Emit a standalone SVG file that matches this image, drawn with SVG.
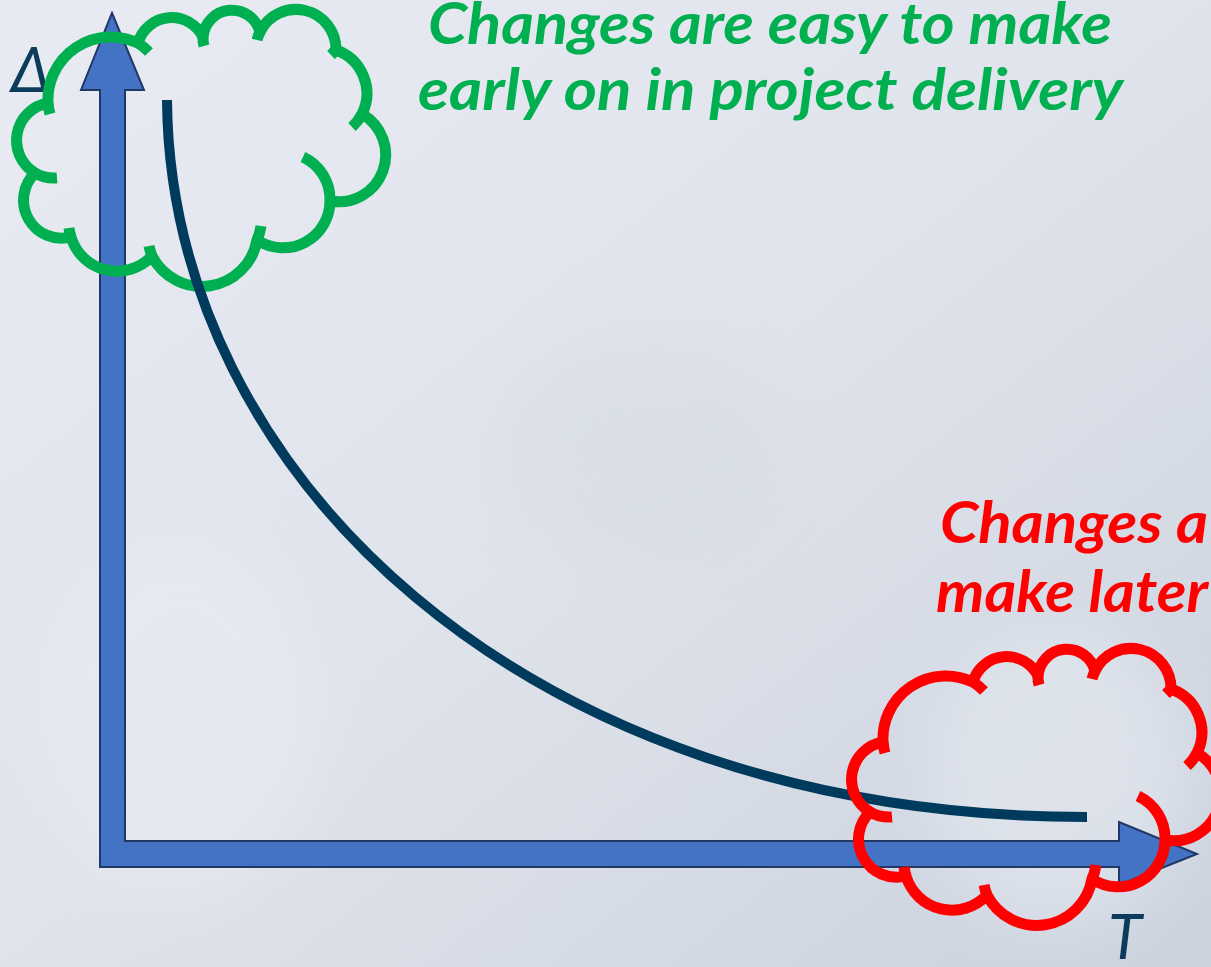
<svg xmlns="http://www.w3.org/2000/svg" xmlns:xlink="http://www.w3.org/1999/xlink" width="1211" height="967" viewBox="0 0 1211 967">
  <style>
    .axis { fill: #4472c4; stroke: #1f3864; stroke-width: 2; stroke-linejoin: miter; }
    .curve { fill: none; stroke: #003a5c; stroke-width: 10; stroke-linecap: butt; }
    .cloud { fill: none; stroke-width: 11; stroke-linejoin: round; stroke-linecap: butt; }
    .cloud.green { stroke: #00b050; }
    .cloud.red { stroke: #ff0000; }
    .note { font-family: Lato, "Open Sans", "Liberation Sans", sans-serif; font-weight: 700; font-style: italic; font-size: 57px; }
    .note.green { fill: #00b050; }
    .note.red { fill: #ff0000; }
    .axis-label { font-family: Lato, "Liberation Sans", sans-serif; font-style: italic; font-size: 62px; fill: #0d3b5c; }
  </style>
  <defs>
    <linearGradient id="bg" x1="0" y1="0" x2="1" y2="1">
      <stop offset="0" stop-color="#e9ebf3"/>
      <stop offset="0.5" stop-color="#dfe3eb"/>
      <stop offset="1" stop-color="#cbd2de"/>
    </linearGradient>
    <filter id="soft" x="-50%" y="-50%" width="200%" height="200%">
      <feGaussianBlur stdDeviation="30"/>
    </filter>
    <!-- cloud outline: eleven bumps, clockwise from the upper-left -->
    <path id="cloud-outline" d="M48,103
      A63 63 0 0 1 138,43
      A35 35 0 0 1 203,37
      A29 29 0 0 1 260,32
      A40 40 0 0 1 336,50
      A46 46 0 0 1 362,114
      A47 47 0 0 1 330,201
      A47 47 0 0 1 257,240
      A56 56 0 0 1 152,256
      A48 48 0 0 1 71,237
      A38 38 0 0 1 35,173
      A38 38 0 0 1 48,103 Z"/>
    <!-- short inner arcs where the bumps meet -->
    <path id="cloud-ticks" d="M48,103 A63 63 0 0 0 50,114
      M138,43 A63 63 0 0 1 149,52
      M203,37 A29 29 0 0 0 204,46
      M260,32 A40 40 0 0 0 257,40
      M336,50 L331,55
      M362,114 A46 46 0 0 1 352,127
      M303,157 A47 47 0 0 1 330,201
      M257,240 A56 56 0 0 0 261,226
      M152,256 A56 56 0 0 1 149,246
      M71,237 A48 48 0 0 1 69,228
      M35,173 A38 38 0 0 0 57,178"/>
  </defs>

  <!-- backdrop -->
  <rect width="1211" height="967" fill="url(#bg)"/>
  <g filter="url(#soft)" opacity="0.4">
    <ellipse cx="1060" cy="780" rx="130" ry="150" fill="#eef2f8"/>
    <ellipse cx="640" cy="450" rx="140" ry="110" fill="#d3d9e3"/>
    <ellipse cx="180" cy="720" rx="140" ry="180" fill="#eef0f6"/>
  </g>

  <!-- axis labels -->
  <g id="label-delta">
    <text class="axis-label" x="11" y="92">Δ</text>
  </g>
  <g id="label-t">
    <text class="axis-label" x="1108" y="959">T</text>
  </g>

  <!-- value / time axes -->
  <g id="axes">
    <path class="axis" d="M100,867 L100,90 L81,90 L112,13 L144,90 L125,90 L125,841 L1119,841 L1119,822 L1197,854 L1119,885 L1119,867 Z"/>
  </g>

  <!-- cloud around the early phase -->
  <g id="cloud-early" class="cloud green">
    <use xlink:href="#cloud-outline"/>
    <use xlink:href="#cloud-ticks"/>
  </g>

  <!-- connectors -->
  <g id="connectors">
    <path id="change-curve" class="curve" d="M167,100 C170,470 520,817 1087,817"/>
  </g>

  <!-- cloud around the late phase -->
  <g id="cloud-late" class="cloud red" transform="translate(835,639)">
    <use xlink:href="#cloud-outline"/>
    <use xlink:href="#cloud-ticks"/>
  </g>

  <!-- notes -->
  <g id="note-early">
    <text class="note green" x="428" y="44" textLength="684" lengthAdjust="spacingAndGlyphs">Changes are easy to make</text>
    <text class="note green" x="418" y="110" textLength="705" lengthAdjust="spacingAndGlyphs">early on in project delivery</text>
  </g>
  <g id="note-late">
    <text class="note red" x="940" y="543" textLength="268" lengthAdjust="spacingAndGlyphs">Changes a</text>
    <text class="note red" x="936" y="612" textLength="272" lengthAdjust="spacingAndGlyphs">make later</text>
  </g>
</svg>
